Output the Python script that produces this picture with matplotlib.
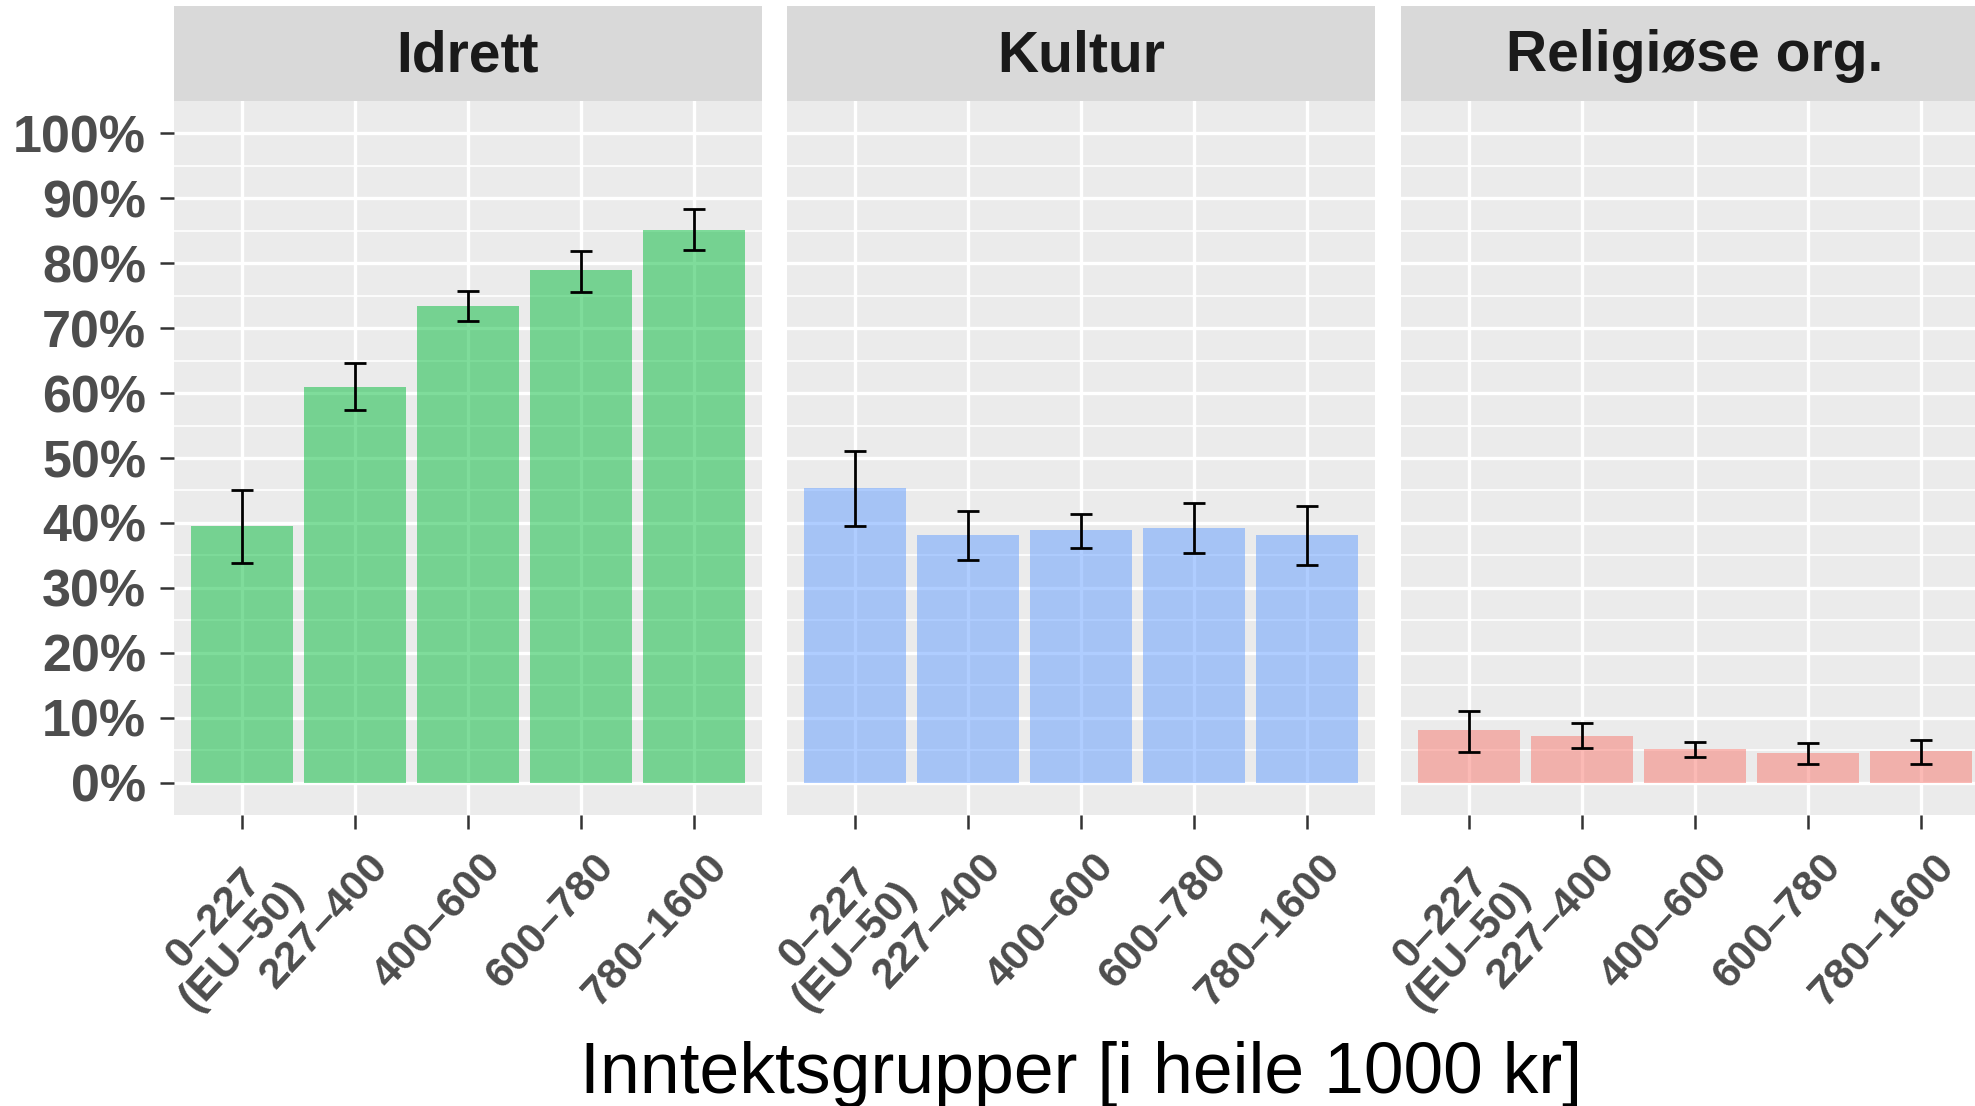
import numpy as np
import matplotlib
matplotlib.use("Agg")
import matplotlib.pyplot as plt
from matplotlib.transforms import ScaledTranslation

plt.rcParams['font.family'] = ['Liberation Sans', 'DejaVu Sans']

# data (shares, 0-1)
groups = ["0\u2013227\n(EU\u201350)", "227\u2013400", "400\u2013600", "600\u2013780", "780\u20131600"]
panels = ["Idrett", "Kultur", "Religiøse org."]
colors = ["#00BA38", "#619CFF", "#F8766D"]

idrett = [0.395, 0.609, 0.734, 0.789, 0.851]
idrett_lo = [0.339, 0.574, 0.711, 0.756, 0.820]
idrett_hi = [0.450, 0.647, 0.758, 0.819, 0.884]

kultur = [0.454, 0.381, 0.389, 0.392, 0.381]
kultur_lo = [0.396, 0.343, 0.362, 0.354, 0.335]
kultur_hi = [0.511, 0.418, 0.414, 0.430, 0.426]

relig = [0.081, 0.072, 0.051, 0.046, 0.048]
relig_lo = [0.047, 0.053, 0.039, 0.029, 0.028]
relig_hi = [0.110, 0.092, 0.062, 0.061, 0.065]

values = [idrett, kultur, relig]
lows = [idrett_lo, kultur_lo, relig_lo]
highs = [idrett_hi, kultur_hi, relig_hi]

W, H = 1975, 1106
fig = plt.figure(figsize=(W / 100, H / 100), dpi=100)

panel_left = [174, 787, 1401]
panel_w = 588
plot_top, plot_bot = 101, 815
strip_top = 6

x = np.arange(len(groups))
yticks = np.arange(0, 1.01, 0.1)

for i, name in enumerate(panels):
    ax = fig.add_axes([panel_left[i] / W, 1 - plot_bot / H,
                       panel_w / W, (plot_bot - plot_top) / H])
    ax.set_facecolor("#EBEBEB")
    ax.set_axisbelow(True)
    for s in ax.spines.values():
        s.set_visible(False)

    ax.bar(x, values[i], width=0.9, color=colors[i], alpha=0.5, linewidth=0, zorder=2)
    ax.vlines(x, lows[i], highs[i], color="black", linewidth=2.0, zorder=3)
    ax.hlines(lows[i], x - 0.1, x + 0.1, color="black", linewidth=2.0, zorder=3)
    ax.hlines(highs[i], x - 0.1, x + 0.1, color="black", linewidth=2.0, zorder=3)

    ax.set_xlim(-0.6, 4.6)
    ax.set_ylim(-0.05, 1.05)
    ax.set_yticks(yticks)
    ax.set_yticks(np.arange(0.05, 1.0, 0.1), minor=True)
    ax.grid(which="major", color="white", linewidth=2.4)
    ax.grid(which="minor", axis="y", color="white", linewidth=1.2)
    ax.tick_params(which="minor", length=0)
    ax.tick_params(which="major", length=10, width=1.8, color="#333333")

    ax.set_xticks(x)
    ax.set_xticklabels(groups, rotation=47, ha="right", va="top",
                       rotation_mode="anchor", fontsize=31, fontweight="bold",
                       color="#4D4D4D", multialignment="center",
                       linespacing=0.95)
    ax.tick_params(axis="x", pad=13)
    for lab in ax.get_xticklabels():
        lab.set_transform(lab.get_transform() + ScaledTranslation(0.12, 0, fig.dpi_scale_trans))

    if i == 0:
        ax.set_yticklabels([f"{int(round(v * 100))}%" for v in yticks],
                           fontsize=37.5, fontweight="bold", color="#4D4D4D")
        ax.tick_params(axis="y", pad=10)
    else:
        ax.tick_params(axis="y", left=False, labelleft=False)

    sax = fig.add_axes([panel_left[i] / W, 1 - plot_top / H,
                        panel_w / W, (plot_top - strip_top) / H])
    sax.set_facecolor("#D9D9D9")
    sax.set_xticks([])
    sax.set_yticks([])
    for s in sax.spines.values():
        s.set_visible(False)
    sax.text(0.5, 0.47, name, ha="center", va="center", fontsize=41,
             fontweight="bold", color="#1A1A1A", transform=sax.transAxes)

fig.text(1081 / W, 1 - 1093 / H, "Inntektsgrupper [i heile 1000 kr]",
         ha="center", va="baseline", fontsize=51.5, color="black")

fig.savefig("out.png", dpi=100)
